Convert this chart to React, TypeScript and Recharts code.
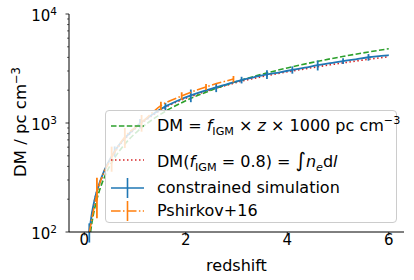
import { LineChart, Line, XAxis, YAxis, ErrorBar } from 'recharts';

// constrained simulation (blue), error bars every other point
const simZ = [0.1, 0.15, 0.2, 0.25, 0.35, 0.6, 0.85, 1.1, 1.35, 1.6, 1.85, 2.1, 2.35, 2.6, 2.85, 3.1, 3.35, 3.6, 3.85, 4.1, 4.35, 4.6, 4.85, 5.1, 5.35, 5.6, 5.85, 6.0];
const simDM = [100, 148, 194, 238, 325, 550, 770, 990, 1200, 1420, 1610, 1790, 1960, 2120, 2300, 2480, 2630, 2790, 2920, 3070, 3220, 3390, 3540, 3700, 3840, 4010, 4120, 4190];
const simErr = [20, null, null, null, null, 60, null, 100, null, 110, null, 238, null, 200, null, 174, null, 262, null, 235, null, 356, null, 220, null, 280, null, null];

// Pshirkov+16 (orange)
const pshZ = [0.1, 0.25, 0.54, 0.8, 1.13, 1.51, 1.92, 2.4, 2.94];
const pshDM = [98, 224, 482, 745, 1008, 1441, 1770, 2145, 2530];
const pshErr = [null, 90, 125, 155, 176, 125, 144, 135, 168];

// DM(f_IGM = 0.8) = int n_e dl (red dotted)
const intZ = [0.1, 0.2, 0.35, 0.6, 0.85, 1.1, 1.35, 1.6, 1.85, 2.1, 2.35, 2.6, 2.85, 3.1, 3.35, 3.6, 3.85, 4.1, 4.35, 4.6, 4.85, 5.1, 5.35, 5.6, 5.85, 6.0];
const intDM = [98, 190, 318, 540, 755, 970, 1175, 1390, 1580, 1750, 1920, 2080, 2250, 2420, 2570, 2720, 2860, 3000, 3140, 3280, 3420, 3560, 3700, 3840, 3970, 4060];

// DM = f_IGM * z * 1000 (green dashed)
const linZ = [0.125, 0.15, 0.2, 0.25, 0.3, 0.4, 0.5, 0.6, 0.8, 1, 1.25, 1.5, 2, 2.5, 3, 3.5, 4, 4.5, 5, 5.5, 6];
const linDM = [100, 120, 160, 200, 240, 320, 400, 480, 640, 800, 1000, 1200, 1600, 2000, 2400, 2800, 3200, 3600, 4000, 4400, 4800];

const xTicks = [0, 2, 4, 6];
const yMajorTicks = [100, 1000, 10000];
const yExponents = ['2', '3', '4'];
const yMinorTicks = [200, 300, 400, 500, 600, 700, 800, 900, 2000, 3000, 4000, 5000, 6000, 7000, 8000, 9000];

const simData = simZ.map((z, i) => ({ z, dm: simDM[i], err: simErr[i] }));
const pshData = pshZ.map((z, i) => ({ z, dm: pshDM[i], err: pshErr[i] }));
const intData = intZ.map((z, i) => ({ z, dm: intDM[i] }));
const linData = linZ.map((z, i) => ({ z, dm: linDM[i] }));

const C_BLUE = '#1f77b4';
const C_ORANGE = '#ff7f0e';
const C_GREEN = '#2ca02c';
const C_RED = '#d62728';

function XTick({ x, y, payload }: any) {
  return (
    <g>
      <line x1={x} x2={x} y1={y} y2={y + 3.5} stroke="#000" strokeWidth={0.8} />
      <text x={x} y={y + 12.5} textAnchor="middle" fontSize={15} fill="#000">{payload.value}</text>
    </g>
  );
}

function YTick({ x, y, payload }: any) {
  const idx = yMajorTicks.indexOf(payload.value);
  const major = idx >= 0;
  return (
    <g>
      <line x1={x - (major ? 3.5 : 2)} x2={x} y1={y} y2={y} stroke="#000" strokeWidth={major ? 0.8 : 0.6} />
      {major && (
        <text x={x - 12} y={y + 6.5} textAnchor="end" fontSize={15} fill="#000">
          10<tspan dy={-5.5} fontSize={10.5}>{yExponents[idx]}</tspan>
        </text>
      )}
    </g>
  );
}

function XLabel() {
  return <text x={236.5} y={271} textAnchor="middle" fontSize={16} fill="#000">redshift</text>;
}

function YLabel() {
  return (
    <text x={26} y={122} transform="rotate(-90, 26, 122)" textAnchor="middle" fontSize={16.5} fill="#000">
      DM / pc cm<tspan dy={-6} fontSize={11.5}>−3</tspan>
    </text>
  );
}

const sub: React.CSSProperties = { fontSize: '70%', position: 'relative', top: 4 };
const sup: React.CSSProperties = { fontSize: '70%', position: 'relative', top: -7 };

function Handle({ color, dash, bar }: { color: string; dash?: string; bar?: boolean }) {
  return (
    <svg width={34} height={24} style={{ position: 'absolute', left: 5, top: -12 }}>
      <line x1={0} x2={33} y1={12} y2={12} stroke={color} strokeWidth={1.6} strokeDasharray={dash} />
      {bar && <line x1={16.5} x2={16.5} y1={2} y2={22} stroke={color} strokeWidth={1.6} />}
    </svg>
  );
}

function LegendRow({ top, children }: { top: number; children: React.ReactNode }) {
  return (
    <div style={{ position: 'absolute', left: 0, top, width: '100%', height: 0 }}>
      {children}
    </div>
  );
}

function LegendText({ children }: { children: React.ReactNode }) {
  return (
    <div style={{ position: 'absolute', left: 51, top: -10, lineHeight: '20px', fontSize: 16, whiteSpace: 'nowrap', color: '#000' }}>
      {children}
    </div>
  );
}

export default function App() {
  return (
    <div style={{ position: 'absolute', left: 0, top: 0, width: 414, height: 280, background: '#fff', fontFamily: '"DejaVu Sans", sans-serif' }}>
      <LineChart width={414} height={280} data={simData} margin={{ top: 14, right: 10, bottom: 0, left: 0 }}>
        <XAxis
          type="number" dataKey="z" domain={[-0.3, 6.3]} ticks={xTicks} allowDataOverflow
          height={48} tickSize={0} tickMargin={0} tickLine={false} tick={<XTick />}
          axisLine={{ stroke: '#000', strokeWidth: 1 }} label={<XLabel />}
        />
        <XAxis xAxisId="top" orientation="top" type="number" domain={[-0.3, 6.3]} height={0}
          tick={false} tickLine={false} axisLine={{ stroke: '#000', strokeWidth: 1 }} />
        <YAxis
          scale="log" domain={[100, 10000]} allowDataOverflow width={69}
          ticks={[...yMajorTicks, ...yMinorTicks]} interval={0}
          tickSize={0} tickMargin={0} tickLine={false} tick={<YTick />}
          axisLine={{ stroke: '#000', strokeWidth: 1 }} label={<YLabel />}
        />
        <YAxis yAxisId="right" orientation="right" width={0} domain={[0, 1]}
          tick={false} tickLine={false} axisLine={{ stroke: '#000', strokeWidth: 1 }} />
        <Line data={intData} dataKey="dm" type="monotone" stroke={C_RED} strokeWidth={1.6}
          strokeDasharray="1.5 2.5" dot={false} activeDot={false} isAnimationActive={false} />
        <Line data={linData} dataKey="dm" type="monotone" stroke={C_GREEN} strokeWidth={1.6}
          strokeDasharray="5.5 2.4" dot={false} activeDot={false} isAnimationActive={false} />
        <Line data={simData} dataKey="dm" type="monotone" stroke={C_BLUE} strokeWidth={1.8}
          dot={false} activeDot={false} isAnimationActive={false}>
          <ErrorBar dataKey="err" direction="y" width={0} stroke={C_BLUE} strokeWidth={1.8} isAnimationActive={false} />
        </Line>
        <Line data={pshData} dataKey="dm" type="monotone" stroke={C_ORANGE} strokeWidth={1.6}
          strokeDasharray="9.6 2.4 1.5 2.4" dot={false} activeDot={false} isAnimationActive={false}>
          <ErrorBar dataKey="err" direction="y" width={0} stroke={C_ORANGE} strokeWidth={1.8} isAnimationActive={false} />
        </Line>
      </LineChart>

      <div style={{
        position: 'absolute', left: 105, top: 110, width: 290, height: 111,
        border: '1px solid #cccccc', borderRadius: 4, background: 'rgba(255,255,255,0.8)',
      }}>
        <LegendRow top={15}>
          <Handle color={C_GREEN} dash="5.5 2.4" />
          <LegendText>
            DM = <i>f</i><span style={sub}>IGM</span> × <i>z</i> × 1000 pc cm<span style={sup}>−3</span>
          </LegendText>
        </LegendRow>
        <LegendRow top={48.5}>
          <Handle color={C_RED} dash="1.5 2.5" />
          <LegendText>
            DM(<i>f</i><span style={sub}>IGM</span> = 0.8) = <span style={{ fontSize: 20 }}>∫</span><i>n</i><span style={sub}><i>e</i></span>d<i>l</i>
          </LegendText>
        </LegendRow>
        <LegendRow top={76.5}>
          <Handle color={C_BLUE} bar />
          <LegendText>constrained simulation</LegendText>
        </LegendRow>
        <LegendRow top={99.5}>
          <Handle color={C_ORANGE} dash="9.6 2.4 1.5 2.4" bar />
          <LegendText>Pshirkov+16</LegendText>
        </LegendRow>
      </div>
    </div>
  );
}
